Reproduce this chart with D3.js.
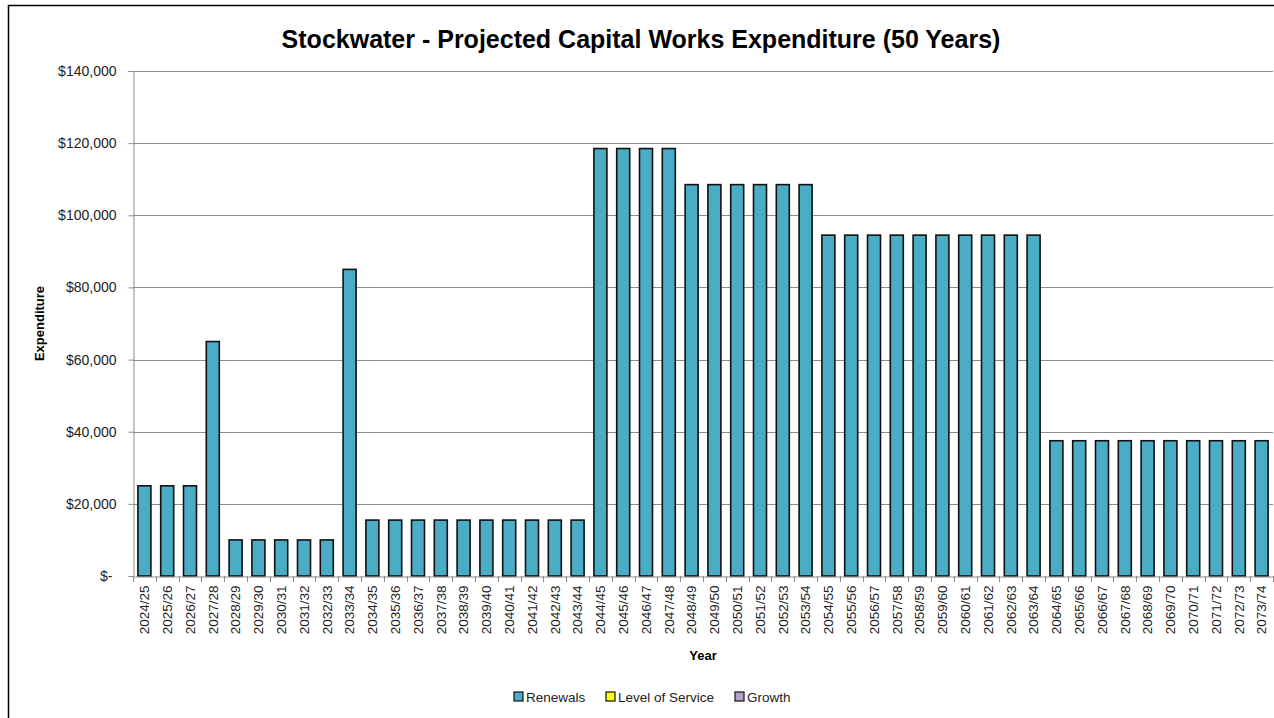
<!DOCTYPE html>
<html>
<head>
<meta charset="utf-8">
<script src="https://cdn.jsdelivr.net/npm/d3@7"></script>
<style>
  html, body { margin: 0; padding: 0; background: #fff; }
  svg { display: block; font-family: "Liberation Sans", Arial, sans-serif; }
</style>
</head>
<body>
<svg id="chart" width="1274" height="718"></svg>
<script>
// ---- Data ----
const years = [
  "2024/25","2025/26","2026/27","2027/28","2028/29","2029/30","2030/31","2031/32","2032/33","2033/34",
  "2034/35","2035/36","2036/37","2037/38","2038/39","2039/40","2040/41","2041/42","2042/43","2043/44",
  "2044/45","2045/46","2046/47","2047/48","2048/49","2049/50","2050/51","2051/52","2052/53","2053/54",
  "2054/55","2055/56","2056/57","2057/58","2058/59","2059/60","2060/61","2061/62","2062/63","2063/64",
  "2064/65","2065/66","2066/67","2067/68","2068/69","2069/70","2070/71","2071/72","2072/73","2073/74"
];
const renewals = [
  25000,25000,25000,65000,10000,10000,10000,10000,10000,85000,
  15500,15500,15500,15500,15500,15500,15500,15500,15500,15500,
  118500,118500,118500,118500,108500,108500,108500,108500,108500,108500,
  94500,94500,94500,94500,94500,94500,94500,94500,94500,94500,
  37500,37500,37500,37500,37500,37500,37500,37500,37500,37500
];
const levelOfService = years.map(() => 0);
const growth = years.map(() => 0);
const yTicks = [0, 20000, 40000, 60000, 80000, 100000, 120000, 140000];
const seriesNames = ["Renewals", "Level of Service", "Growth"];
const seriesColors = ["#4BACC6", "#FFFF00", "#B3A2C7"];
const titleText = "Stockwater - Projected Capital Works Expenditure (50 Years)";

// ---- Layout ----
const svg = d3.select("#chart");
const W = 1274, H = 718;
const plot = { left: 133, right: 1273, top: 71, bottom: 576 };

// chart frame
svg.append("rect")
  .attr("x", 8.5).attr("y", 5.5)
  .attr("width", W + 10).attr("height", H + 10)
  .attr("fill", "#fff").attr("stroke", "#000").attr("stroke-width", 1.5);

const x = d3.scaleBand().domain(years).range([plot.left, plot.right]).paddingInner(0.43).paddingOuter(0.215);
const xTickScale = d3.scaleBand().domain(years).range([plot.left, plot.right]);
const y = d3.scaleLinear().domain([0, 140000]).range([plot.bottom, plot.top]);

// gridlines
svg.append("g").selectAll("line").data(yTicks.filter(d => d > 0)).join("line")
  .attr("x1", plot.left).attr("x2", plot.right)
  .attr("y1", d => Math.round(y(d)) + 0.5).attr("y2", d => Math.round(y(d)) + 0.5)
  .attr("stroke", "#8c8c8c").attr("stroke-width", 1);

// y axis
const fmt = d => d === 0 ? "$-" : "$" + d3.format(",")(d);
const yAxis = svg.append("g")
  .attr("transform", `translate(${plot.left + 0.5},0)`)
  .call(d3.axisLeft(y).tickValues(yTicks).tickFormat(fmt).tickSize(5).tickPadding(12));
yAxis.select(".domain").attr("stroke", "#8c8c8c");
yAxis.selectAll(".tick line").attr("stroke", "#8c8c8c");
yAxis.selectAll(".tick text").attr("font-size", 14).attr("fill", "#222")
  .attr("font-family", "'Liberation Sans', Arial, sans-serif");
yAxis.selectAll(".tick").filter(d => d === 0).select("text").attr("dx", -4);

// bars
svg.append("g").selectAll("rect").data(years).join("rect")
  .attr("x", d => x(d))
  .attr("width", x.bandwidth())
  .attr("y", (d, i) => y(renewals[i]))
  .attr("height", (d, i) => y(0) - y(renewals[i]))
  .attr("fill", seriesColors[0])
  .attr("stroke", "#111").attr("stroke-width", 1.6);

// x axis
const xAxis = svg.append("g")
  .attr("transform", `translate(0,${plot.bottom + 0.5})`)
  .call(d3.axisBottom(xTickScale).tickSize(0).tickPadding(0));
xAxis.select(".domain").attr("stroke", "#8c8c8c");
// tick marks between categories
svg.append("g").selectAll("line").data(d3.range(years.length + 1)).join("line")
  .attr("x1", i => Math.round(plot.left + i * xTickScale.step()) + 0.5)
  .attr("x2", i => Math.round(plot.left + i * xTickScale.step()) + 0.5)
  .attr("y1", plot.bottom).attr("y2", plot.bottom + 6)
  .attr("stroke", "#8c8c8c");
xAxis.selectAll(".tick text")
  .attr("font-size", 13.5).attr("fill", "#222")
  .attr("text-anchor", "end")
  .attr("transform", "rotate(-90)")
  .attr("x", -9).attr("y", 0).attr("dy", "0.35em");

// title
const title = svg.append("text")
  .attr("x", (plot.left + plot.right) / 2 - 62).attr("y", 48)
  .attr("text-anchor", "middle").attr("font-weight", "bold")
  .attr("font-size", 24).attr("fill", "#000")
  .text(titleText);
// fit title width to the reference (~719px)
const tw = title.node().getComputedTextLength();
title.attr("font-size", 24 * 719 / tw);

// y axis title
svg.append("text")
  .attr("transform", `translate(44,${(plot.top + plot.bottom) / 2}) rotate(-90)`)
  .attr("text-anchor", "middle").attr("font-weight", "bold")
  .attr("font-size", 13).attr("fill", "#000")
  .text("Expenditure");

// x axis title
svg.append("text")
  .attr("x", (plot.left + plot.right) / 2).attr("y", 660)
  .attr("text-anchor", "middle").attr("font-weight", "bold")
  .attr("font-size", 13).attr("fill", "#000")
  .text("Year");

// legend
const legendX = [514, 606, 735];
const lg = svg.append("g").selectAll("g").data(seriesNames).join("g")
  .attr("transform", (d, i) => `translate(${legendX[i]},692)`);
lg.append("rect").attr("x", 0).attr("y", 0).attr("width", 9).attr("height", 9)
  .attr("fill", (d, i) => seriesColors[i]).attr("stroke", "#111").attr("stroke-width", 1.2);
lg.append("text").attr("x", 12).attr("y", 10)
  .attr("font-size", 13.5).attr("fill", "#222")
  .text(d => d);
</script>
</body>
</html>
